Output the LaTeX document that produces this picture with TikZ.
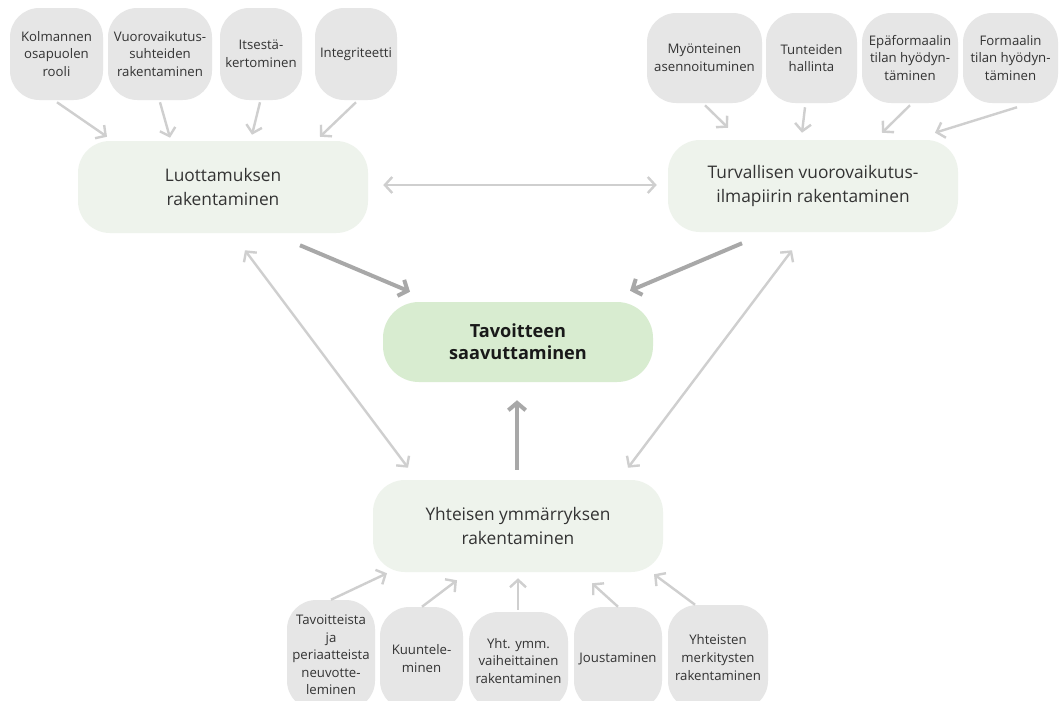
\documentclass[tikz,border=0pt]{standalone}
\usepackage{fontspec}
\setmainfont{Open Sans}
\usetikzlibrary{arrows.meta,calc}
\definecolor{smallbox}{HTML}{E6E6E6}
\definecolor{mainbox}{HTML}{EEF3EC}
\definecolor{goalbox}{HTML}{D8ECD0}
\definecolor{txt}{HTML}{333333}
\definecolor{lightarr}{HTML}{CFCFCF}
\definecolor{darkarr}{HTML}{A8A8A8}
\tikzset{
  smallnode/.style={fill=smallbox, rounded corners=22pt, align=center, text=txt,
     font=\fontsize{9.9}{13.2}\selectfont, inner sep=0pt},
  mainnode/.style={fill=mainbox, rounded corners=24pt, align=center, text=txt,
     font=\fontsize{13}{18}\selectfont, inner sep=0pt,
     minimum width=217.5pt, minimum height=69pt},
  goalnode/.style={fill=goalbox, rounded corners=27pt, align=center, text=black!90,
     font=\fontsize{13.6}{16.5}\selectfont\bfseries, inner sep=0pt,
     minimum width=202.5pt, minimum height=60pt},
  larr/.style={draw=lightarr, line width=1.8pt, -{Straight Barb[length=5.5pt,width=12pt]}},
  ldarr/.style={draw=lightarr, line width=1.8pt, {Straight Barb[length=5.5pt,width=12pt]}-{Straight Barb[length=5.5pt,width=12pt]}},
  darr/.style={draw=darkarr, line width=3pt, -{Straight Barb[length=5.5pt,width=13pt]}},
}
\begin{document}
\begin{tikzpicture}[x=0.75pt,y=-0.75pt]
\useasboundingbox (0,0) rectangle (1059,700);
\fill[white] (0,0) rectangle (1059,700);
% top-left small nodes
\node[smallnode, minimum width=69.75pt, minimum height=69pt] (k1) at (56.5,54) {Kolmannen\\osapuolen\\rooli};
\node[smallnode, minimum width=78pt, minimum height=69pt] (k2) at (160,54) {Vuorovaikutus-\\suhteiden\\rakentaminen};
\node[smallnode, minimum width=61.5pt, minimum height=69pt] (k3) at (261,54) {Itsestä-\\kertominen};
\node[smallnode, minimum width=61.5pt, minimum height=69pt] (k4) at (356,54) {Integriteetti};
% top-right small nodes
\node[smallnode, minimum width=86.25pt, minimum height=67.5pt] (m1) at (704.5,58) {Myönteinen\\asennoituminen};
\node[smallnode, minimum width=68.25pt, minimum height=67.5pt] (m2) at (811.5,58) {Tunteiden\\hallinta};
\node[smallnode, minimum width=72pt, minimum height=67.5pt] (m3) at (910,58) {Epäformaalin\\tilan hyödyn-\\täminen};
\node[smallnode, minimum width=71.25pt, minimum height=67.5pt] (m4) at (1010.5,58) {Formaalin\\tilan hyödyn-\\täminen};
% main nodes
\node[mainnode] (L) at (223,187) {Luottamuksen\\rakentaminen};
\node[mainnode] (T) at (813,186) {Turvallisen vuorovaikutus-\\ilmapiirin rakentaminen};
\node[goalnode] (C) at (518,342) {Tavoitteen\\saavuttaminen};
\node[mainnode] (Y) at (518,526) {Yhteisen ymmärryksen\\rakentaminen};
% bottom small nodes
\node[smallnode, minimum width=66pt, minimum height=82.5pt] (b1) at (331,655) {Tavoitteista\\ja\\periaatteista\\neuvotte-\\leminen};
\node[smallnode, minimum width=62.25pt, minimum height=77.25pt] (b2) at (421.5,658.5) {Kuuntele-\\minen};
\node[smallnode, minimum width=74.25pt, minimum height=73.5pt] (b3) at (518.5,661) {Yht. ymm.\\vaiheittainen\\rakentaminen};
\node[smallnode, minimum width=66pt, minimum height=77.25pt] (b4) at (618,658.5) {Joustaminen};
\node[smallnode, minimum width=75pt, minimum height=78.75pt] (b5) at (718,657.5) {Yhteisten\\merkitysten\\rakentaminen};
% top-left arrows
\draw[larr] ($(k1.south)+(0.5,2)$) -- ($(L.north)+(-116,-4)$);
\draw[larr] ($(k2.south)+(0,2)$) -- ($(L.north)+(-53,-3)$);
\draw[larr] ($(k3.south)+(-1,2)$) -- ($(L.north)+(29,-6)$);
\draw[larr] ($(k4.south)+(0,2)$) -- ($(L.north)+(97,-4)$);
% top-right arrows
\draw[larr] ($(m1.south)+(0.5,2)$) -- ($(T.north)+(-85,-12)$);
\draw[larr] ($(m2.south)+(-6.5,4)$) -- ($(T.north)+(-11,-7)$);
\draw[larr] ($(m3.south)+(0,2)$) -- ($(T.north)+(69,-7)$);
\draw[larr] ($(m4.south)+(6.5,4)$) -- ($(T.north)+(122,-7)$);
% between main nodes
\draw[ldarr] ($(L.east)+(15,-2)$) -- ($(T.west)+(-11,-1)$);
\draw[ldarr] ($(L.south)+(22,17)$) -- ($(Y.north)+(-110,-12)$);
\draw[ldarr] ($(T.south)+(-21,18)$) -- ($(Y.north)+(110,-12)$);
% dark arrows to goal
\draw[darr] ($(L.south)+(77,12)$) -- ($(C.north)+(-108,-10)$);
\draw[darr] ($(T.south)+(-71,11)$) -- ($(C.north)+(112,-11)$);
\draw[darr] ($(Y.north)+(-1,-10)$) -- ($(C.south)+(-1,18)$);
% bottom arrows
\draw[larr] ($(b1.north)+(0,0)$) -- ($(Y.south)+(-131,1)$);
\draw[larr] ($(b2.north)+(0.5,0)$) -- ($(Y.south)+(-61,8)$);
\draw[larr] ($(b3.north)+(-0.5,-2)$) -- ($(Y.south)+(0,6)$);
\draw[larr] ($(b4.north)+(0,0)$) -- ($(Y.south)+(74,11)$);
\draw[larr] ($(b5.north)+(-23,0)$) -- ($(Y.south)+(136,2)$);
\end{tikzpicture}
\end{document}
